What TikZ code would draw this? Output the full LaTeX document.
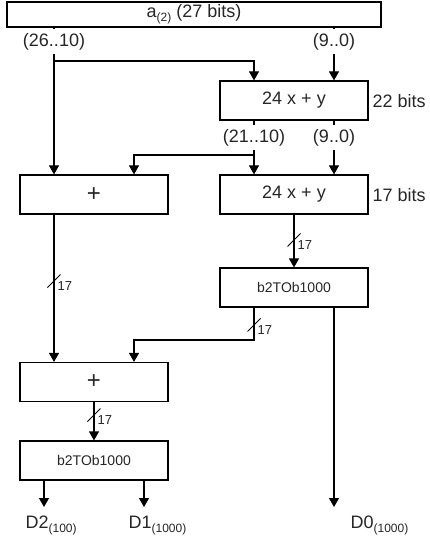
\documentclass[tikz,border=0pt]{standalone}
\usepackage{fontspec}
\setmainfont{Liberation Sans}
\usetikzlibrary{positioning,arrows.meta}
\definecolor{BlkText}{HTML}{262626}
\newcommand{\lsub}[1]{\raisebox{-4pt}{\fontsize{12}{12}\selectfont #1}}

\begin{document}
\begin{tikzpicture}[x=1pt,y=-1pt,>={Triangle[width=10pt,length=9pt]},line width=1.2pt]
  \tikzstyle{blk}=[draw,line width=1.2pt,minimum width=148pt,minimum height=39pt,
    inner sep=0pt,text=BlkText,font=\fontsize{18}{21}\selectfont]
  \tikzstyle{addr}=[blk,font=\fontsize{24}{26}\selectfont]
  \tikzstyle{conv}=[blk,font=\fontsize{14}{17}\selectfont]
  \tikzstyle{rng}=[inner sep=0pt,minimum height=23pt,text=BlkText,
    font=\fontsize{18}{21}\selectfont]
  \tikzstyle{bus}=[inner sep=0pt,anchor=west,text=BlkText,font=\fontsize{13}{15}\selectfont]
  \tikzstyle{outl}=[inner sep=0pt,anchor=base west,text=BlkText,
    font=\fontsize{18}{21}\selectfont]
  \useasboundingbox (0,0) rectangle (430,540);
  % blocks
  \node[blk,minimum width=374pt,minimum height=25pt] (a) at (194,14.5) {a\lsub{(2)} (27 bits)};
  \node[blk] (m1) at (294,100.5) {24 x + y};
  \node[blk,below=53.8pt of m1] (m2) {24 x + y};
  \node[addr] (p1) at (94,194.5) {+};
  \node[conv,below=52.8pt of m2] (c1) {b2TOb1000};
  \node[addr] (p2) at (94,382) {+};
  \node[conv,below=38.3pt of p2] (c2) {b2TOb1000};
  \node[bus,font=\fontsize{18}{21}\selectfont] (w1) at (372,101) {22 bits};
  \node[bus,font=\fontsize{18}{21}\selectfont] (w2) at (372,195) {17 bits};
  % bit ranges
  \node[rng] (l1) at (54,41.5) {(26..10)};
  \node[rng] (l2) at (334,41.5) {(9..0)};
  \node[rng] (l3) at (254,137.5) {(21..10)};
  \node[rng] (l4) at (334,137.5) {(9..0)};
  \coordinate (j1) at (54,61);
  \coordinate (j2) at (254,155);
  \coordinate (j3) at (254,340);
  \coordinate (o2) at (44,507);
  \coordinate (o1) at (144,507);
  \coordinate (o0) at (334,507);
  % connectors
  \draw (l1 |- a.south) -- (l1.north);
  \draw[->] (l1.south) -- (l1.south |- p1.north);
  \draw[->] (j1) -| (l3 |- m1.north);
  \draw (l2 |- a.south) -- (l2.north);
  \draw[->] (l2.south) -- (l2.south |- m1.north);
  \draw (l3 |- m1.south) -- (l3.north);
  \draw[->] (l3.south) -- (l3.south |- m2.north);
  \draw[->] (j2) -| ([xshift=40pt]p1.north);
  \draw (l4 |- m1.south) -- (l4.north);
  \draw[->] (l4.south) -- (l4.south |- m2.north);
  \draw[->] (m2) -- (c1);
  \draw[->] ([xshift=-40pt]c1.south) -- (j3) -| ([xshift=40pt]p2.north);
  \draw[->] ([xshift=40pt]c1.south) -- (o0);
  \draw[->] ([xshift=-40pt]p1.south) -- ([xshift=-40pt]p2.north);
  \draw[->] (p2) -- (c2);
  \draw[->] ([xshift=-50pt]c2.south) -- (o2);
  \draw[->] ([xshift=50pt]c2.south) -- (o1);
  % bus widths
  \coordinate (s1) at (294,240);
  \coordinate (s2) at (54,281);
  \coordinate (s3) at (254,325);
  \coordinate (s4) at (94,415);
  \foreach \s in {s1,s2,s3,s4}{
    \draw[line width=0.8pt] (\s) +(-6.5,6.5) -- +(6.5,-6.5);
    \node[bus] (n\s) at ([shift={(3,5)}]\s) {17};
  }
  % outputs
  \node[outl] (d2) at (25,528) {D2\lsub{(100)}};
  \node[outl] (d1) at (128,528) {D1\lsub{(1000)}};
  \node[outl] (d0) at (350,528) {D0\lsub{(1000)}};
\end{tikzpicture}
\end{document}
